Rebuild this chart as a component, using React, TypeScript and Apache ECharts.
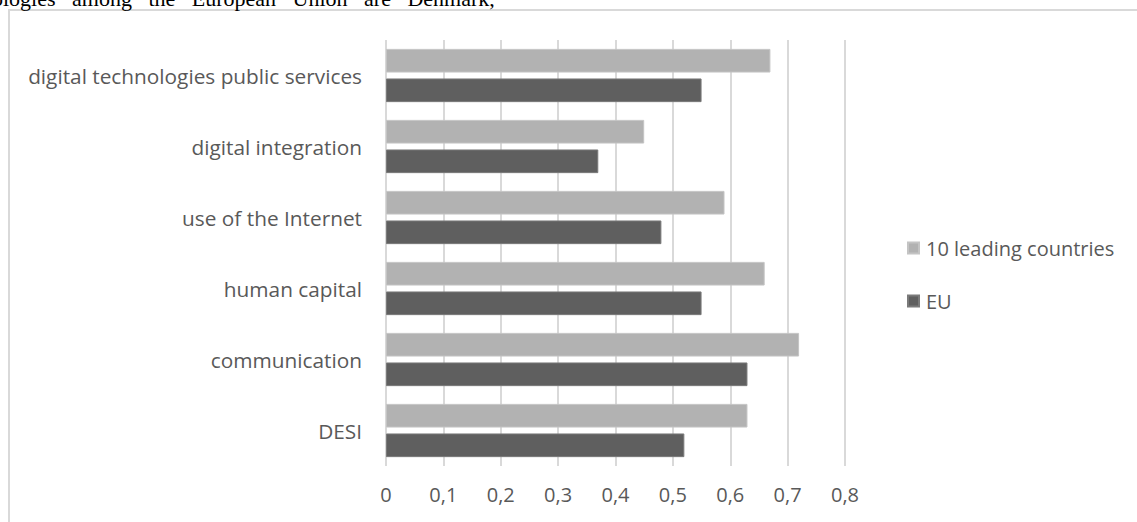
import React, { useEffect, useRef } from "react";
import * as echarts from "echarts";

const categories = [
  "DESI",
  "communication",
  "human capital",
  "use of the Internet",
  "digital integration",
  "digital technologies public services",
];
const leading = [0.63, 0.72, 0.66, 0.59, 0.45, 0.67];
const eu = [0.52, 0.63, 0.55, 0.48, 0.37, 0.55];
const xTicks = [0, 0.1, 0.2, 0.3, 0.4, 0.5, 0.6, 0.7, 0.8];
const seriesNames = ["10 leading countries", "EU"];
const headerText = "ologies   among   the   European   Union   are   Denmark,";

export default function App() {
  const ref = useRef<HTMLDivElement>(null);
  useEffect(() => {
    const chart = echarts.init(ref.current!, null, { renderer: "svg" });
    const font = "'Open Sans', sans-serif";
    chart.setOption({
      animation: false,
      backgroundColor: "#ffffff",
      grid: { left: 386, right: 292, top: 40, bottom: 56, containLabel: false },
      legend: {
        orient: "vertical",
        left: 902,
        top: 233,
        itemWidth: 11,
        itemHeight: 11,
        itemGap: 33,
        data: seriesNames,
        icon: "rect",
        textStyle: { color: "#595959", fontSize: 20, fontFamily: font, padding: [0, 0, 0, 2] },
      },
      xAxis: {
        type: "value",
        min: 0,
        max: 0.8,
        interval: 0.1,
        axisLine: { show: false },
        axisTick: { show: false },
        splitLine: { show: true, lineStyle: { color: "#d9d9d9", width: 2 } },
        axisLabel: {
          color: "#595959",
          fontSize: 20,
          fontFamily: font,
          margin: 18,
          formatter: (v: number) => {
            const t = xTicks.find((x) => Math.abs(x - v) < 1e-9);
            return String(t ?? v).replace(".", ",");
          },
        },
      },
      yAxis: {
        type: "category",
        data: categories,
        axisLine: { show: false },
        axisTick: { show: false },
        splitLine: { show: false },
        axisLabel: {
          color: "#595959",
          fontSize: 20.8,
          fontFamily: font,
          margin: 24,
        },
      },
      series: [
        {
          name: "10 leading countries",
          type: "bar",
          data: leading,
          barGap: "25%",
          barCategoryGap: "25%",
          itemStyle: { color: "#b2b2b2", borderColor: "#c4c4c4", borderWidth: 1 },
        },
        {
          name: "EU",
          type: "bar",
          data: eu,
          barGap: "25%",
          barCategoryGap: "25%",
          itemStyle: { color: "#5f5f5f", borderColor: "#7a7a7a", borderWidth: 1 },
        },
      ],
      graphic: [
        {
          type: "rect",
          shape: { x: 9, y: 10, width: 1200, height: 600 },
          style: { fill: "none", stroke: "#d9d9d9", lineWidth: 2 },
          silent: true,
        },
        {
          type: "text",
          x: -8,
          y: -13,
          style: {
            text: headerText,
            font: "22px 'Liberation Serif', serif",
            fill: "#000000",
          },
        },
      ],
    });
    return () => chart.dispose();
  }, []);
  return (
    <div
      ref={ref}
      style={{ position: "fixed", left: 0, top: 0, width: 1137, height: 522 }}
    />
  );
}
